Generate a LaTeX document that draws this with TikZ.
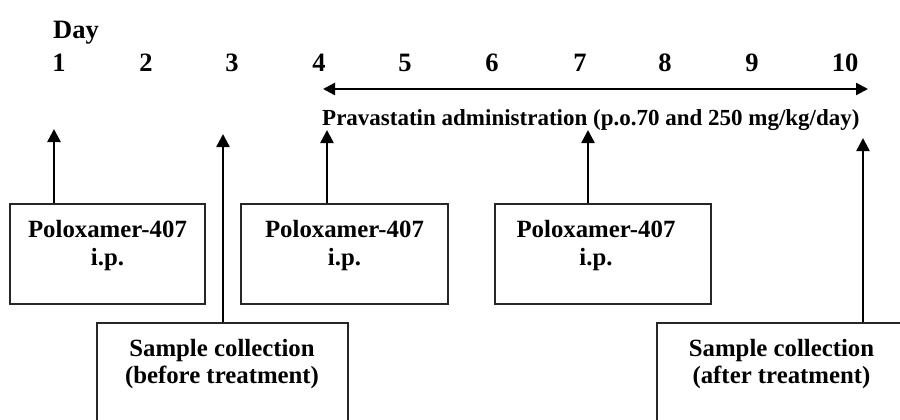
\documentclass[tikz,border=0pt]{standalone}
\usepackage{fontspec}
\setmainfont{Liberation Serif}
\usetikzlibrary{arrows.meta}
\begin{document}
\begin{tikzpicture}[x=1pt,y=-1pt,
  boxtxt/.style={font=\fontsize{24.8}{28}\selectfont\bfseries, inner sep=0pt, anchor=base},
  daytxt/.style={font=\fontsize{26.5}{30}\selectfont\bfseries, inner sep=0pt, anchor=base},
  admtxt/.style={font=\fontsize{23}{26}\selectfont\bfseries, inner sep=0pt, anchor=base west},
  box/.style={draw=black!85, line width=1.2pt, inner sep=0pt, fill=white},
  arr/.style={line width=2.4pt, -{Triangle[length=13pt,width=13pt]}},
  darr/.style={line width=2.4pt, {Triangle[length=12pt,width=12pt]}-{Triangle[length=12pt,width=12pt]}}]
\useasboundingbox (0,0) rectangle (900,420);
\clip (0,0) rectangle (900,420);
% day labels
\node[daytxt, anchor=base west] (day) at (53,39) {Day};
\foreach \n/\x in {1/59,2/146,3/232,4/319,5/405,6/492,7/580,8/665,9/752,10/845}
  \node[daytxt] (d\n) at (\x,71) {\n};
% administration arrow
\coordinate (h1) at (323,89);
\coordinate (h2) at (868,89);
\draw[darr] (h1) -- (h2);
\node[admtxt] (adm) at (322,125) {Pravastatin administration (p.o.70 and 250 mg/kg/day)};
% boxes
\node[box, minimum width=195pt, minimum height=100pt] (p1) at (107.5,254) {};
\node[box, minimum width=207pt, minimum height=100pt] (p2) at (344.5,254) {};
\node[box, minimum width=216pt, minimum height=100pt] (p3) at (603,254) {};
\node[box, minimum width=251pt, minimum height=137pt] (s1) at (222.5,391.5) {};
\node[box, minimum width=303pt, minimum height=137pt] (s2) at (808.5,391.5) {};
% box texts
\node[boxtxt] (p1a) at (107.5,237) {Poloxamer-407};
\node[boxtxt] (p1b) at (107.5,265) {i.p.};
\node[boxtxt] (p2a) at (344.5,237) {Poloxamer-407};
\node[boxtxt] (p2b) at (344.5,265) {i.p.};
\node[boxtxt] (p3a) at (596,237) {Poloxamer-407};
\node[boxtxt] (p3b) at (596,265) {i.p.};
\node[boxtxt] (s1a) at (222,356) {Sample collection};
\node[boxtxt] (s1b) at (222,383) {(before treatment)};
\node[boxtxt] (s2a) at (781.5,356) {Sample collection};
\node[boxtxt] (s2b) at (781.5,383) {(after treatment)};
% arrow tips
\coordinate (t1) at (54,129);
\coordinate (t3) at (223,134);
\coordinate (t4) at (327,130);
\coordinate (t7) at (588,130);
\coordinate (t10) at (863,138);
\draw[arr] (p1.north -| t1) -- (t1);
\draw[arr] (s1.north -| t3) -- (t3);
\draw[arr] (p2.north -| t4) -- (t4);
\draw[arr] (p3.north -| t7) -- (t7);
\draw[arr] (s2.north -| t10) -- (t10);
\end{tikzpicture}
\end{document}
